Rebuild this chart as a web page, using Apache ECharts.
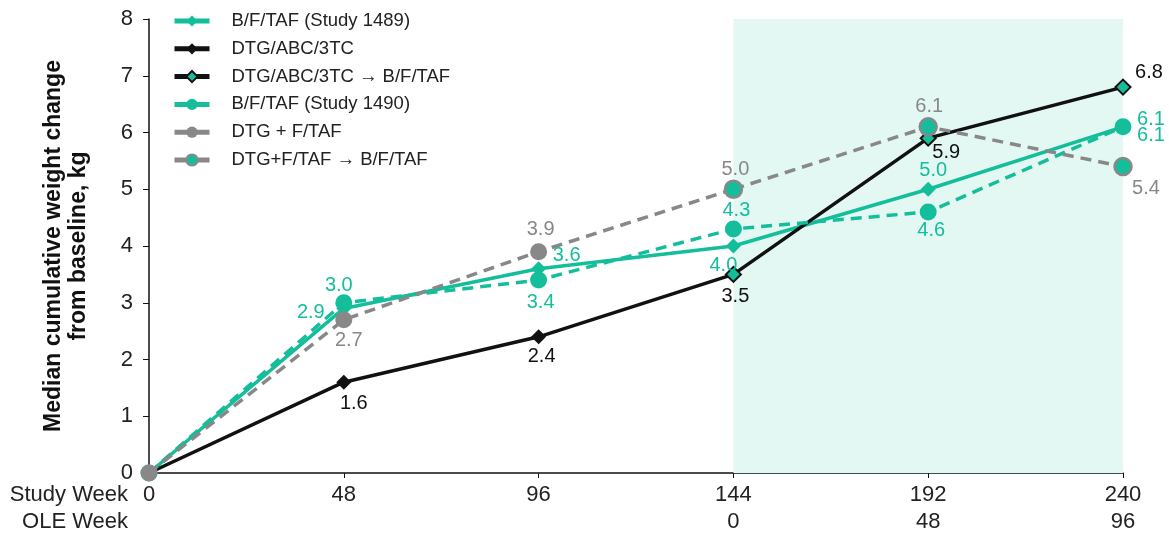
<!DOCTYPE html>
<html>
<head>
<meta charset="utf-8">
<script src="https://cdn.jsdelivr.net/npm/echarts@6/dist/echarts.min.js"></script>
<style>
html,body{margin:0;padding:0;background:#fff;}
#chart{width:1169px;height:535px;}
</style>
</head>
<body>
<div id="chart"></div>
<script>
// ---- data ----
const studyWeeks = [0, 48, 96, 144, 192, 240];
const oleWeeks = ['', '', '', '0', '48', '96'];
const seriesNames = [
  'B/F/TAF (Study 1489)',
  'DTG/ABC/3TC',
  'DTG/ABC/3TC \u2192 B/F/TAF',
  'B/F/TAF (Study 1490)',
  'DTG + F/TAF',
  'DTG+F/TAF \u2192 B/F/TAF'
];
const bftaf1489 = [0, 2.9, 3.6, 4.0, 5.0, 6.1];
const dtgAbc3tc = [0, 1.6, 2.4, 3.5, null, null];
const dtgAbc3tcSwitch = [null, null, null, 3.5, 5.9, 6.8];
const bftaf1490 = [0, 3.0, 3.4, 4.3, 4.6, 6.1];
const dtgFtaf = [0, 2.7, 3.9, 5.0, null, null];
const dtgFtafSwitch = [null, null, null, 5.0, 6.1, 5.4];
const yTicks = [0, 1, 2, 3, 4, 5, 6, 7, 8];

// ---- styling ----
const TEAL = '#14BE9B';
const BLACK = '#111111';
const GRAY = '#888888';
const FONT = 'Liberation Sans, Arial, sans-serif';

// label offsets (label centre relative to point), null = no label
const off1489 = [null, [-33, 4], [28, -13], [-10, 19], [5, -19], [28, -7]];
const offAbc = [null, [10, 21], [3, 20], [2, 22], null, null];
const offAbcSw = [null, null, null, null, [18, 14], [26, -15]];
const off1490 = [null, [-5, -17], [2, 22], [3, -18], [3, 19], [28, 9]];
const offFtaf = [null, [5, 21], [2, -22], [2, -20], null, null];
const offFtafSw = [null, null, null, null, [1, -20], [23, 22]];

function build(values, offsets, color) {
  const out = [];
  values.forEach((v, i) => {
    if (v === null) return;
    const o = offsets[i];
    out.push({
      value: [studyWeeks[i], v],
      label: o ? {
        show: true, position: 'inside', offset: o,
        formatter: (p) => p.value[1].toFixed(1),
        color: color, fontSize: 20, fontFamily: FONT
      } : { show: false }
    });
  });
  return out;
}

const chart = echarts.init(document.getElementById('chart'), null, { renderer: 'canvas' });

const option = {
  animation: false,
  backgroundColor: '#ffffff',
  grid: { left: 149, right: 46, top: 19, bottom: 60, containLabel: false },
  legend: {
    left: 167, top: 6, orient: 'vertical',
    itemWidth: 35, itemHeight: 14, itemGap: 7.8,
    textStyle: { fontSize: 18.5, fontFamily: FONT, color: '#222', padding: [0, 0, 0, 17], lineHeight: 20 },
    lineStyle: { type: 'solid', width: 5 },
    data: seriesNames
  },
  graphic: [
    { type: 'text', right: 1169 - 128, top: 484, style: { text: 'Study Week', font: '22px ' + FONT, fill: '#222', textAlign: 'right' } },
    { type: 'text', right: 1169 - 128, top: 511, style: { text: 'OLE Week', font: '22px ' + FONT, fill: '#222', textAlign: 'right' } }
  ],
  xAxis: {
    type: 'value', min: 0, max: 240, interval: 48,
    axisLine: { show: true, lineStyle: { color: BLACK, width: 1.5 } },
    axisTick: { show: true, length: 5, lineStyle: { color: BLACK } },
    splitLine: { show: false },
    axisLabel: {
      margin: 8, fontSize: 22, fontFamily: FONT, color: '#222', lineHeight: 27,
      formatter: (v) => {
        const i = studyWeeks.indexOf(v);
        return v + '\n' + (i >= 0 ? oleWeeks[i] : '');
      }
    }
  },
  yAxis: {
    type: 'value', min: yTicks[0], max: yTicks[yTicks.length - 1], interval: 1,
    name: 'Median cumulative weight change\nfrom baseline, kg',
    nameLocation: 'middle', nameRotate: 90, nameGap: 58,
    nameTextStyle: { fontSize: 23, fontWeight: 'bold', fontFamily: FONT, color: '#111', lineHeight: 25 },
    axisLine: { show: true, lineStyle: { color: BLACK, width: 1.5 } },
    axisTick: { show: true, length: 6, lineStyle: { color: BLACK } },
    splitLine: { show: false },
    axisLabel: { margin: 16, fontSize: 22, fontFamily: FONT, color: '#222' }
  },
  series: [
    {
      name: seriesNames[0], type: 'line',
      data: build(bftaf1489, off1489, TEAL),
      symbol: 'diamond', symbolSize: 15,
      lineStyle: { color: TEAL, width: 3.5 },
      itemStyle: { color: TEAL },
      z: 3,
      markArea: {
        silent: true,
        itemStyle: { color: '#E3F8F3' },
        data: [[{ xAxis: 144 }, { xAxis: 240 }]]
      }
    },
    {
      name: seriesNames[1], type: 'line',
      data: build(dtgAbc3tc, offAbc, BLACK),
      symbol: 'diamond', symbolSize: 15,
      lineStyle: { color: BLACK, width: 3.5 },
      itemStyle: { color: BLACK },
      z: 3
    },
    {
      name: seriesNames[2], type: 'line',
      data: build(dtgAbc3tcSwitch, offAbcSw, BLACK),
      symbol: 'diamond', symbolSize: 15,
      lineStyle: { color: BLACK, width: 3.5 },
      itemStyle: { color: TEAL, borderColor: BLACK, borderWidth: 2 },
      z: 3
    },
    {
      name: seriesNames[3], type: 'line',
      data: build(bftaf1490, off1490, TEAL),
      symbol: 'circle', symbolSize: 17,
      lineStyle: { color: TEAL, width: 3.5, type: [11, 7] },
      itemStyle: { color: TEAL },
      z: 3
    },
    {
      name: seriesNames[4], type: 'line',
      data: build(dtgFtaf, offFtaf, GRAY),
      symbol: 'circle', symbolSize: 17,
      lineStyle: { color: GRAY, width: 3.5, type: [11, 7] },
      itemStyle: { color: GRAY },
      z: 3
    },
    {
      name: seriesNames[5], type: 'line',
      data: build(dtgFtafSwitch, offFtafSw, GRAY),
      symbol: 'circle', symbolSize: 17,
      lineStyle: { color: GRAY, width: 3.5, type: [11, 7] },
      itemStyle: { color: TEAL, borderColor: GRAY, borderWidth: 2.5 },
      z: 3
    }
  ]
};
chart.setOption(option);
</script>
</body>
</html>
